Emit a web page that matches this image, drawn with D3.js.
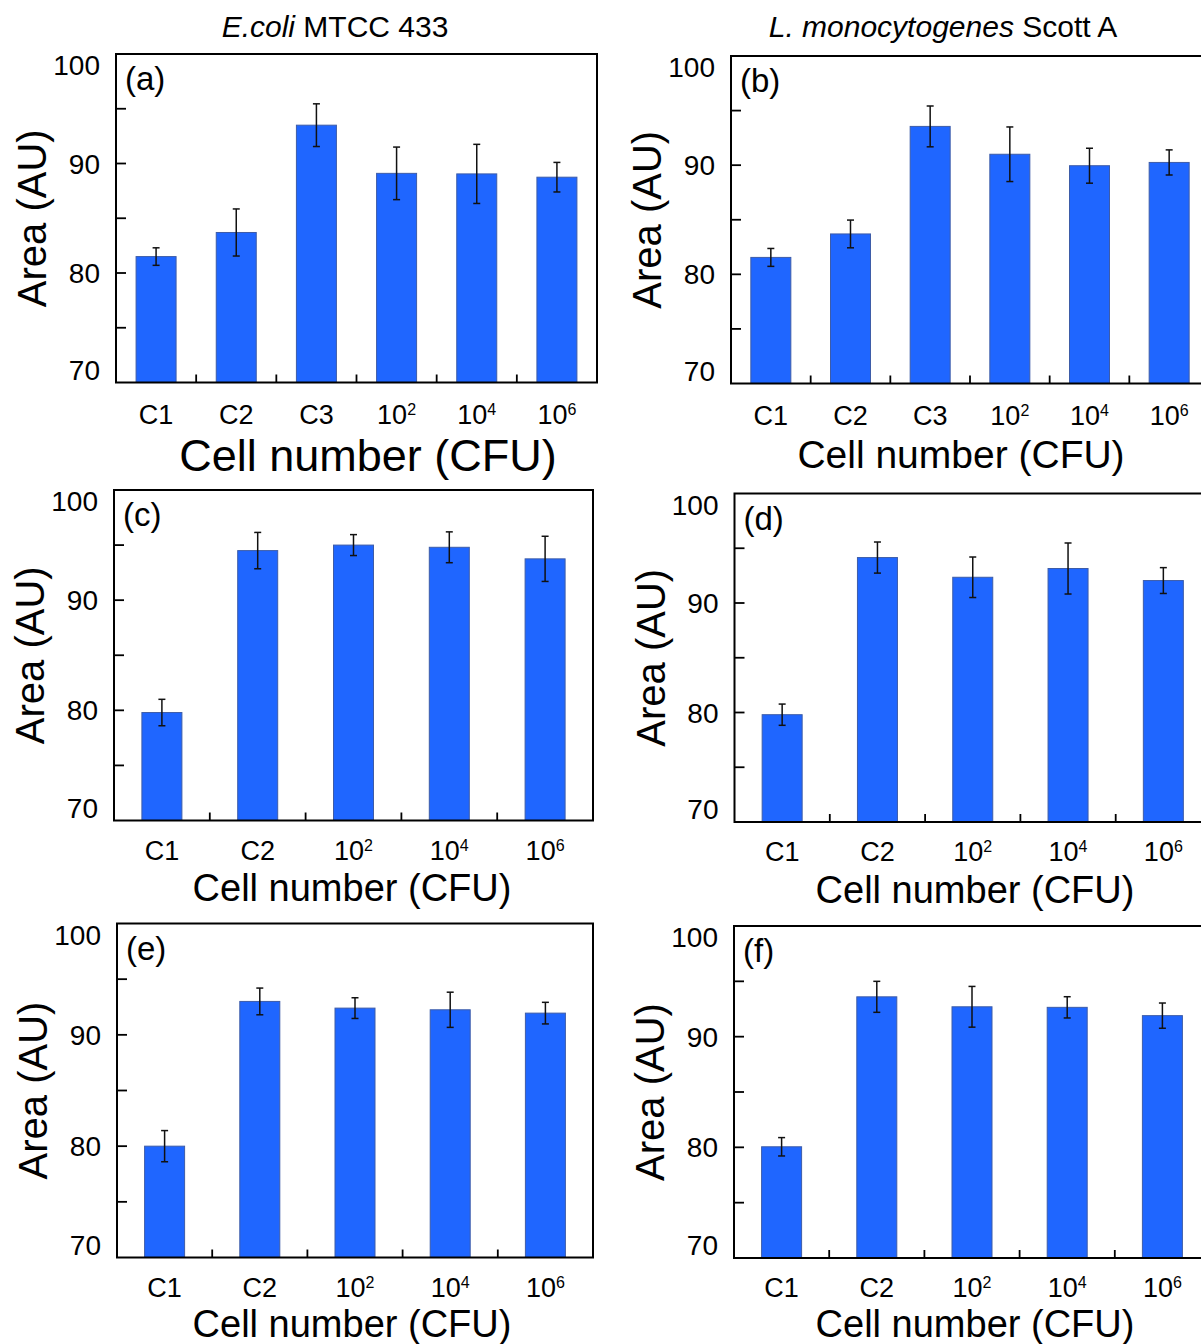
<!DOCTYPE html>
<html lang="en">
  <head>
    <meta charset="UTF-8" />
    <title>Area vs cell number</title>
    <script src="https://d3js.org/d3.v7.min.js"></script>
    <style>
      body {
        margin: 0;
        background: #fff;
      }
      svg {
        display: block;
        font-family: "Liberation Sans", Arial, sans-serif;
      }
    </style>
  </head>
  <body>
    <div class="chart"></div>
  </body>

  <script>
    // categories and ticks
    var catsSix = ["C1", "C2", "C3", "10^2", "10^4", "10^6"];
    var catsFive = ["C1", "C2", "10^2", "10^4", "10^6"];
    var yTicks = [70, 75, 80, 85, 90, 95, 100];
    var yLabels = [70, 80, 90, 100];

    // E.coli MTCC 433 (left column)
    var areaA = [81.5, 83.7, 93.5, 89.1, 89.05, 88.75];
    var errA = [0.8, 2.15, 1.95, 2.4, 2.7, 1.35];
    var areaC = [79.8, 94.5, 95.0, 94.8, 93.75];
    var errC = [1.2, 1.65, 0.95, 1.4, 2.05];
    var areaE = [80.0, 93.0, 92.4, 92.25, 91.95];
    var errE = [1.4, 1.2, 0.93, 1.58, 0.97];

    // L. monocytogenes Scott A (right column)
    var areaB = [81.55, 83.7, 93.55, 91.0, 89.95, 90.25];
    var errB = [0.82, 1.27, 1.87, 2.5, 1.6, 1.15];
    var areaD = [79.8, 94.15, 92.35, 93.15, 92.05];
    var errD = [0.97, 1.42, 1.85, 2.33, 1.18];
    var areaF = [80.05, 93.6, 92.7, 92.65, 91.9];
    var errF = [0.83, 1.4, 1.84, 0.96, 1.14];

    var W = 1201,
      H = 1344;
    var barColor = "#1f66ff";
    var barW = 40;

    var panels = [
      { tag: "(a)", cats: catsSix, vals: areaA, errs: errA, labY: 41,
        left: 116, right: 597, top: 54, bottom: 382.5, xt: 368, xtY: 471, xtSize: 45 },
      { tag: "(b)", cats: catsSix, vals: areaB, errs: errB, labY: 41,
        left: 731, right: 1209, top: 56, bottom: 383.5, xt: 961, xtY: 468, xtSize: 39 },
      { tag: "(c)", cats: catsFive, vals: areaC, errs: errC, labY: 39,
        left: 114, right: 593, top: 490, bottom: 820.5, xt: 352, xtY: 901, xtSize: 38 },
      { tag: "(d)", cats: catsFive, vals: areaD, errs: errD, labY: 39,
        left: 734.5, right: 1211, top: 493.5, bottom: 822, xt: 975, xtY: 903, xtSize: 38 },
      { tag: "(e)", cats: catsFive, vals: areaE, errs: errE, labY: 39,
        left: 117, right: 593, top: 923.5, bottom: 1257.5, xt: 352, xtY: 1337, xtSize: 38 },
      { tag: "(f)", cats: catsFive, vals: areaF, errs: errF, labY: 39,
        left: 734, right: 1210, top: 926, bottom: 1258, xt: 975, xtY: 1337, xtSize: 38 },
    ];

    var svg = d3
      .select(".chart")
      .append("svg")
      .attr("width", W)
      .attr("height", H);

    svg.append("rect").attr("width", W).attr("height", H).attr("fill", "#fff");

    // column titles
    var t1 = svg.append("text").attr("x", 335).attr("y", 37)
      .attr("text-anchor", "middle").attr("font-size", 30);
    t1.append("tspan").attr("font-style", "italic").text("E.coli");
    t1.append("tspan").text(" MTCC 433");

    var t2 = svg.append("text").attr("x", 943).attr("y", 37)
      .attr("text-anchor", "middle").attr("font-size", 30);
    t2.append("tspan").attr("font-style", "italic").text("L. monocytogenes");
    t2.append("tspan").text(" Scott A");

    // write "10^2" style labels with a superscript
    function catLabel(sel, s) {
      var parts = s.split("^");
      sel.append("tspan").text(parts[0]);
      if (parts.length > 1) {
        sel.append("tspan").attr("font-size", 16).attr("dy", -9).text(parts[1]);
      }
    }

    panels.forEach(function (p) {
      var g = svg.append("g");
      var rows = p.cats.map(function (c, i) {
        return { cat: c, v: p.vals[i], e: p.errs[i] };
      });

      var x = d3.scaleBand().domain(p.cats).range([p.left, p.right]);
      var y = d3.scaleLinear().domain([70, 100]).range([p.bottom, p.top]);

      // bars
      g.selectAll(".bar")
        .data(rows)
        .enter()
        .append("rect")
        .attr("x", function (d) { return x(d.cat) + x.bandwidth() / 2 - barW / 2; })
        .attr("width", barW)
        .attr("y", function (d) { return y(d.v); })
        .attr("height", function (d) { return y(70) - y(d.v); })
        .attr("fill", barColor)
        .attr("stroke", "#3d5ca8")
        .attr("stroke-width", 1);

      // error bars
      var eb = g.selectAll(".err").data(rows).enter().append("g")
        .attr("stroke", "#111").attr("stroke-width", 1.5);
      eb.append("line")
        .attr("x1", function (d) { return x(d.cat) + x.bandwidth() / 2; })
        .attr("x2", function (d) { return x(d.cat) + x.bandwidth() / 2; })
        .attr("y1", function (d) { return y(d.v + d.e); })
        .attr("y2", function (d) { return y(d.v - d.e); });
      [1, -1].forEach(function (s) {
        eb.append("line")
          .attr("x1", function (d) { return x(d.cat) + x.bandwidth() / 2 - 3.5; })
          .attr("x2", function (d) { return x(d.cat) + x.bandwidth() / 2 + 3.5; })
          .attr("y1", function (d) { return y(d.v + s * d.e); })
          .attr("y2", function (d) { return y(d.v + s * d.e); });
      });

      // y ticks pointing inwards
      g.selectAll(".ytick")
        .data(yTicks.slice(1, -1))
        .enter()
        .append("line")
        .attr("x1", p.left)
        .attr("x2", p.left + 10)
        .attr("y1", function (d) { return y(d); })
        .attr("y2", function (d) { return y(d); })
        .attr("stroke", "#000")
        .attr("stroke-width", 1.8);

      // x ticks between categories
      g.selectAll(".xtick")
        .data(p.cats.slice(1))
        .enter()
        .append("line")
        .attr("x1", function (d) { return x(d); })
        .attr("x2", function (d) { return x(d); })
        .attr("y1", p.bottom)
        .attr("y2", p.bottom - 8)
        .attr("stroke", "#000")
        .attr("stroke-width", 1.8);

      // frame
      g.append("rect")
        .attr("x", p.left)
        .attr("y", p.top)
        .attr("width", p.right - p.left)
        .attr("height", p.bottom - p.top)
        .attr("fill", "none")
        .attr("stroke", "#000")
        .attr("stroke-width", 2);

      // y tick labels, end labels nudged inside the frame
      g.selectAll(".ylab")
        .data(yLabels)
        .enter()
        .append("text")
        .attr("x", p.left - 16)
        .attr("y", function (d) {
          var off = d === 100 ? 11 : d === 70 ? -13 : 0;
          return y(d) + off;
        })
        .attr("dy", "0.36em")
        .attr("text-anchor", "end")
        .attr("font-size", 28)
        .text(function (d) { return d; });

      // x tick labels
      g.selectAll(".xlab")
        .data(p.cats)
        .enter()
        .append("text")
        .attr("x", function (d) { return x(d) + x.bandwidth() / 2; })
        .attr("y", p.bottom + p.labY)
        .attr("text-anchor", "middle")
        .attr("font-size", 27)
        .each(function (d) { catLabel(d3.select(this), d); });

      // axis titles
      g.append("text")
        .attr("transform", "translate(" + (p.left - 70) + "," + (p.top + p.bottom) / 2 + ") rotate(-90)")
        .attr("text-anchor", "middle")
        .attr("font-size", 40)
        .text("Area (AU)");

      g.append("text")
        .attr("x", p.xt)
        .attr("y", p.xtY)
        .attr("text-anchor", "middle")
        .attr("font-size", p.xtSize)
        .text("Cell number (CFU)");

      // panel tag
      g.append("text")
        .attr("x", p.left + 9)
        .attr("y", p.top + 36)
        .attr("font-size", 33)
        .text(p.tag);
    });
  </script>
</html>
